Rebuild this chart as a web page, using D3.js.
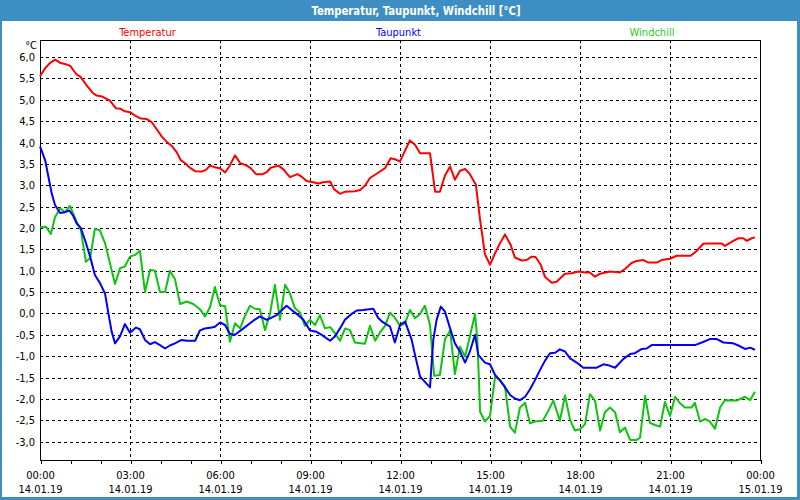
<!DOCTYPE html>
<html>
<head>
<meta charset="utf-8">
<script src="https://cdn.jsdelivr.net/npm/d3@7/dist/d3.min.js"></script>
<style>
  html, body { margin: 0; padding: 0; background: #ffffff; }
  svg { display: block; }
  text { font-family: "DejaVu Sans Condensed", "DejaVu Sans", sans-serif; font-stretch: condensed; }
</style>
</head>
<body>
<script>
// ---------- DATA (hours after 14.01.19 00:00, °C) ----------
const title = "Temperatur, Taupunkt, Windchill [°C]";
const seriesNames = ["Temperatur", "Taupunkt", "Windchill"];

const tempHours = [0,0.17,0.33,0.5,0.69,0.83,1.0,1.2,1.36,1.56,1.76,1.89,2.06,2.33,2.53,2.69,2.83,3.0,3.22,3.36,3.56,3.72,3.89,4.06,4.22,4.39,4.56,4.69,4.83,4.98,5.17,5.39,5.53,5.67,5.83,6.0,6.17,6.31,6.5,6.67,6.89,7.02,7.2,7.42,7.56,7.69,7.96,8.13,8.33,8.58,8.72,8.89,9.11,9.28,9.44,9.67,9.8,10.0,10.17,10.5,10.67,10.83,11.0,11.22,11.5,11.69,11.83,12.0,12.33,12.5,12.67,13.0,13.17,13.33,13.5,13.67,13.83,14.0,14.17,14.33,14.53,14.67,14.83,15.0,15.17,15.33,15.5,15.69,15.83,16.06,16.22,16.39,16.52,16.69,16.83,17.06,17.22,17.5,17.72,17.94,18.17,18.33,18.5,18.67,19.0,19.33,19.5,19.72,19.89,20.11,20.28,20.56,20.72,21.0,21.22,21.69,21.87,22.11,22.28,22.72,22.83,23.11,23.28,23.44,23.56,23.72,23.83];
const tempValues = [5.55,5.74,5.86,5.94,5.86,5.84,5.80,5.61,5.53,5.33,5.16,5.10,5.08,4.98,4.80,4.79,4.73,4.71,4.61,4.56,4.55,4.48,4.31,4.14,4.02,3.92,3.77,3.59,3.52,3.42,3.33,3.32,3.36,3.46,3.42,3.40,3.30,3.44,3.70,3.52,3.46,3.40,3.26,3.26,3.31,3.41,3.46,3.36,3.19,3.26,3.20,3.10,3.07,3.04,3.07,3.09,2.91,2.80,2.85,2.86,2.89,2.99,3.17,3.27,3.40,3.63,3.61,3.56,4.05,3.95,3.75,3.75,2.85,2.85,3.23,3.44,3.13,3.34,3.38,3.26,3.01,2.19,1.39,1.14,1.41,1.64,1.85,1.60,1.31,1.24,1.25,1.33,1.32,1.14,0.86,0.72,0.74,0.93,0.94,0.98,0.96,0.96,0.86,0.93,0.98,0.96,1.04,1.18,1.23,1.25,1.19,1.19,1.25,1.28,1.35,1.35,1.45,1.63,1.64,1.64,1.58,1.70,1.76,1.76,1.70,1.76,1.78];

const dewHours = [0,0.17,0.28,0.39,0.5,0.67,0.83,0.98,1.11,1.22,1.36,1.5,1.67,1.83,2.0,2.17,2.28,2.39,2.5,2.67,2.83,3.0,3.2,3.33,3.5,3.67,3.83,4.0,4.17,4.33,4.5,4.72,4.89,5.17,5.33,5.5,5.72,5.83,6.0,6.17,6.33,6.5,6.78,7.11,7.33,7.56,7.89,8.06,8.22,8.39,8.61,8.78,9.0,9.22,9.39,9.67,9.83,10.0,10.17,10.39,10.56,10.78,11.11,11.28,11.44,11.67,11.83,12.0,12.17,12.39,12.5,12.67,12.83,13.0,13.11,13.22,13.36,13.5,13.67,13.83,14.0,14.17,14.33,14.5,14.61,14.83,15.0,15.17,15.33,15.5,15.67,15.83,16.0,16.17,16.33,16.5,16.67,16.83,17.0,17.17,17.33,17.5,17.67,17.89,18.11,18.56,18.78,18.94,19.17,19.44,19.67,19.83,20.06,20.22,20.39,21.83,22.06,22.33,22.56,22.78,23.11,23.28,23.5,23.67,23.83];
const dewValues = [3.91,3.59,3.20,2.81,2.54,2.35,2.37,2.41,2.28,2.11,2.00,1.72,1.33,0.90,0.71,0.46,0.0,-0.43,-0.70,-0.53,-0.25,-0.45,-0.33,-0.37,-0.62,-0.72,-0.67,-0.74,-0.82,-0.75,-0.70,-0.62,-0.64,-0.64,-0.40,-0.35,-0.33,-0.31,-0.21,-0.27,-0.48,-0.50,-0.35,-0.17,-0.07,-0.15,-0.04,0.08,0.18,0.08,-0.04,-0.15,-0.40,-0.43,-0.50,-0.64,-0.54,-0.35,-0.14,-0.01,0.07,0.08,0.11,-0.11,-0.21,-0.31,-0.68,-0.27,-0.19,-0.62,-0.97,-1.48,-1.60,-1.73,-0.62,-0.15,0.16,0.04,-0.35,-0.70,-0.89,-1.15,-0.89,-0.50,-0.97,-1.15,-1.19,-1.44,-1.56,-1.73,-1.91,-1.99,-2.03,-1.95,-1.78,-1.56,-1.32,-1.11,-0.93,-0.92,-0.84,-0.89,-1.05,-1.15,-1.27,-1.27,-1.19,-1.21,-1.27,-1.07,-0.95,-0.93,-0.83,-0.82,-0.74,-0.74,-0.68,-0.60,-0.60,-0.68,-0.70,-0.75,-0.83,-0.80,-0.85];

const chillHours = [0,0.2,0.36,0.5,0.67,0.83,1.0,1.22,1.36,1.53,1.67,1.83,2.0,2.17,2.33,2.5,2.67,2.83,3.0,3.17,3.33,3.5,3.67,3.83,4.0,4.17,4.33,4.5,4.67,4.89,5.11,5.33,5.5,5.67,5.83,6.0,6.17,6.33,6.5,6.67,6.83,7.0,7.17,7.33,7.5,7.67,7.83,8.0,8.17,8.33,8.5,8.67,8.83,9.0,9.17,9.33,9.5,9.67,9.83,10.0,10.17,10.33,10.5,10.83,11.0,11.17,11.33,11.5,11.67,11.83,12.0,12.17,12.33,12.5,12.67,12.83,13.0,13.14,13.33,13.5,13.67,13.83,14.0,14.17,14.33,14.5,14.58,14.67,14.83,15.0,15.17,15.33,15.5,15.67,15.83,16.0,16.17,16.33,16.5,16.76,16.94,17.11,17.33,17.5,17.67,17.83,18.0,18.17,18.33,18.5,18.67,18.83,19.0,19.17,19.33,19.5,19.67,19.89,20.0,20.17,20.33,20.5,20.67,20.83,21.0,21.17,21.33,21.5,21.72,21.83,22.0,22.17,22.33,22.5,22.67,22.83,23.22,23.5,23.67,23.83];
const chillValues = [2.01,2.03,1.86,2.25,2.46,2.37,2.52,2.15,1.96,1.21,1.29,1.98,1.94,1.64,1.18,0.69,1.06,1.10,1.33,1.37,1.47,0.50,1.02,1.00,0.50,0.51,1.00,0.80,0.22,0.28,0.22,0.10,-0.07,0.15,0.62,0.19,0.17,-0.66,-0.23,-0.35,-0.06,0.18,0.11,0.10,-0.39,0.0,0.67,-0.15,0.67,0.47,0.12,0.02,-0.29,-0.15,-0.27,-0.04,-0.35,-0.32,-0.46,-0.64,-0.35,-0.39,-0.68,-0.71,-0.29,-0.64,-0.45,-0.29,0.02,-0.10,-0.29,-0.23,0.08,-0.11,-0.01,0.18,-0.27,-1.46,-1.44,-0.60,-0.40,-1.42,-0.78,-1.01,-0.54,-0.01,-0.62,-2.30,-2.53,-2.40,-1.48,-1.56,-1.71,-2.65,-2.79,-2.20,-2.09,-2.57,-2.53,-2.51,-2.28,-2.04,-2.51,-1.92,-2.49,-2.74,-2.71,-2.59,-1.89,-2.04,-2.74,-2.31,-2.20,-2.31,-2.78,-2.67,-2.96,-2.96,-2.91,-1.93,-2.56,-2.61,-2.65,-2.07,-2.40,-1.95,-2.10,-2.20,-2.20,-2.09,-2.53,-2.47,-2.53,-2.70,-2.20,-2.03,-2.04,-1.95,-2.03,-1.83];

const yTickValues = [-3.0,-2.5,-2.0,-1.5,-1.0,-0.5,0.0,0.5,1.0,1.5,2.0,2.5,3.0,3.5,4.0,4.5,5.0,5.5,6.0];
const yDomain = [-3.43, 6.40];
const startDate = new Date(2019, 0, 14, 0, 0);
const endDate = new Date(2019, 0, 15, 0, 0);

// ---------- DRAWING ----------
const W = 800, H = 500;
const plot = {left: 40, right: 760, top: 40, bottom: 460};
const colors = {temp: "#ff0000", dew: "#0000ff", chill: "#0fc40f"};

const svg = d3.select("body").append("svg").attr("width", W).attr("height", H);

// frame + title bar
svg.append("rect").attr("x", 0).attr("y", 0).attr("width", W).attr("height", H).attr("fill", "#3d8ec3");
svg.append("rect").attr("x", 2).attr("y", 21).attr("width", 795).attr("height", 476).attr("fill", "#ffffff");
svg.append("text").attr("x", 416).attr("y", 15).attr("text-anchor", "middle")
  .attr("fill", "#ffffff").attr("font-size", "12px").attr("font-weight", "bold")
  .attr("textLength", 209).attr("lengthAdjust", "spacingAndGlyphs")
  .text(title);

const x = d3.scaleTime().domain([startDate, endDate]).range([plot.left, plot.right]);
const y = d3.scaleLinear().domain(yDomain).range([plot.bottom, plot.top]);
const hourToDate = h => new Date(startDate.getTime() + h * 3600000);

// legend
const legendX = [147.5, 398.5, 652];
const legendColors = [colors.temp, colors.dew, "#22cc22"];
seriesNames.forEach((n, i) => {
  svg.append("text").attr("x", legendX[i]).attr("y", 35.5).attr("text-anchor", "middle")
    .attr("font-size", "11px").attr("fill", legendColors[i]).text(n);
});

// grid
const grid = svg.append("g").attr("stroke", "#000").attr("stroke-width", 1).attr("stroke-dasharray", "3,3")
  .attr("shape-rendering", "crispEdges");
grid.selectAll("line.h").data(yTickValues).join("line")
  .attr("x1", plot.left).attr("x2", plot.right)
  .attr("y1", d => Math.round(y(d)) + 0.5).attr("y2", d => Math.round(y(d)) + 0.5);
const vTicks = d3.timeHour.every(3).range(startDate, endDate).filter(d => +d !== +startDate);
grid.selectAll("line.v").data(vTicks).join("line")
  .attr("y1", plot.top).attr("y2", plot.bottom)
  .attr("x1", d => Math.round(x(d)) + 0.5).attr("x2", d => Math.round(x(d)) + 0.5);

// y axis labels
const loc = d3.formatLocale({decimal: ",", thousands: ".", grouping: [3], currency: ["", "€"], minus: "-"});
const fmt = loc.format(".1f");
const yAxis = d3.axisLeft(y).tickValues(yTickValues).tickSize(0).tickPadding(5).tickFormat(fmt);
const gy = svg.append("g").attr("transform", `translate(${plot.left},0)`).call(yAxis);
gy.select(".domain").remove();
gy.selectAll("text").attr("font-size", "11px").attr("fill", "#000")
  .attr("font-family", "'DejaVu Sans Condensed', 'DejaVu Sans', sans-serif");
svg.append("text").attr("x", 37).attr("y", 49).attr("text-anchor", "end")
  .attr("font-size", "11px").attr("fill", "#000").text("°C");

// x axis: hourly minor ticks
const xMinor = d3.axisBottom(x).ticks(d3.timeHour.every(1)).tickSize(4).tickFormat("");
const gxm = svg.append("g").attr("transform", `translate(0.5,${plot.bottom})`).call(xMinor);
gxm.select(".domain").remove();
gxm.selectAll("line").attr("shape-rendering", "crispEdges");

const xMajor = d3.axisBottom(x).ticks(d3.timeHour.every(3)).tickSize(0).tickPadding(0).tickFormat("");
const gx = svg.append("g").attr("transform", `translate(0,${plot.bottom})`).call(xMajor);
gx.select(".domain").remove();
const fTime = d3.timeFormat("%H:%M"), fDate = d3.timeFormat("%d.%m.%y");
gx.selectAll(".tick").each(function(d) {
  const t = d3.select(this).select("text").attr("y", 0).attr("dy", null)
    .attr("font-size", "11px").attr("fill", "#000")
    .attr("font-family", "'DejaVu Sans Condensed', 'DejaVu Sans', sans-serif");
  t.append("tspan").attr("x", 0).attr("y", 19).text(fTime(d));
  t.append("tspan").attr("x", 0).attr("y", 33).text(fDate(d));
});

// plot frame
svg.append("rect").attr("x", plot.left + 0.5).attr("y", plot.top + 0.5)
  .attr("width", plot.right - plot.left).attr("height", plot.bottom - plot.top)
  .attr("fill", "none").attr("stroke", "#000").attr("stroke-width", 1).attr("shape-rendering", "crispEdges");

// lines
const line = d3.line().x(d => x(hourToDate(d[0]))).y(d => y(d[1]));
const series = [
  {h: tempHours, v: tempValues, c: colors.temp},
  {h: dewHours, v: dewValues, c: colors.dew},
  {h: chillHours, v: chillValues, c: colors.chill}
];
// draw windchill first, then taupunkt, temperature on top
[series[2], series[1], series[0]].forEach(s => {
  const pts = s.h.map((h, i) => [h, s.v[i]]);
  svg.append("path").datum(pts).attr("d", line)
    .attr("fill", "none").attr("stroke", s.c).attr("stroke-width", 2)
    .attr("stroke-linejoin", "round");
});
</script>
</body>
</html>
